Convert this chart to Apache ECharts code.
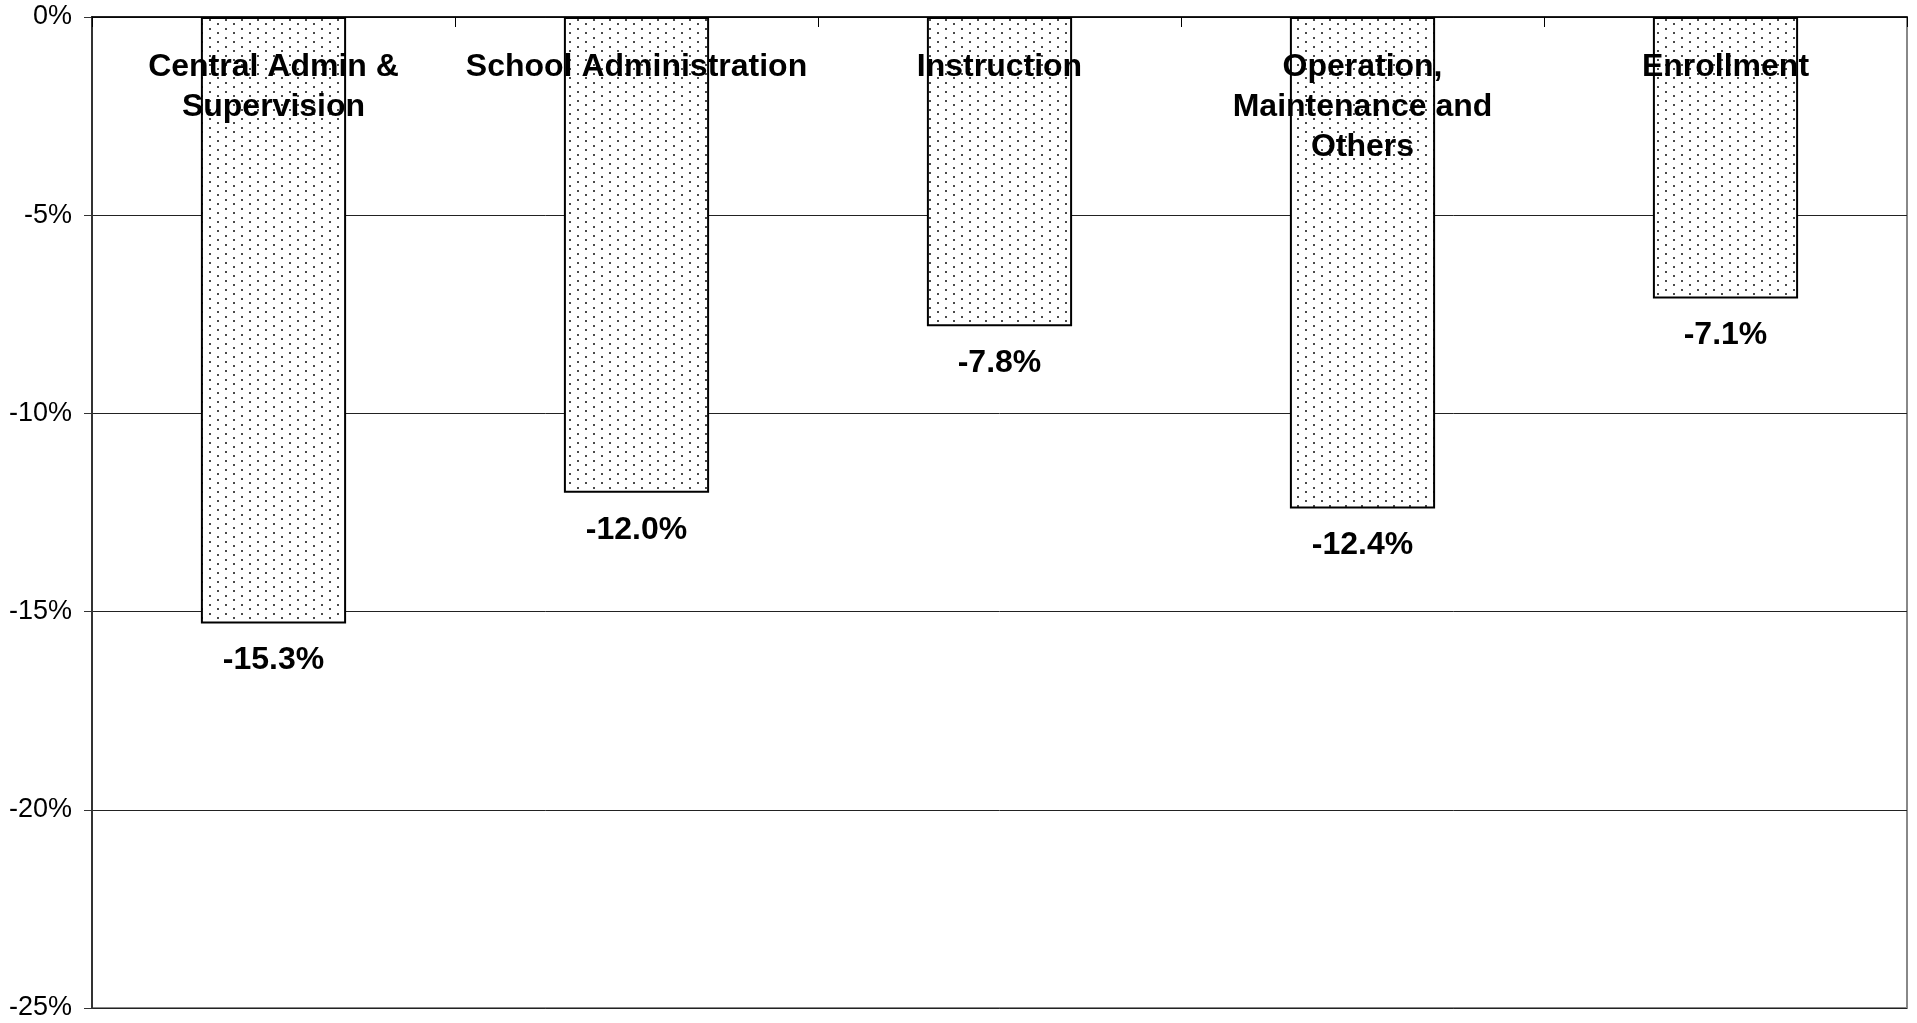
<!DOCTYPE html>
<html>
<head>
<meta charset="utf-8">
<script src="https://cdn.jsdelivr.net/npm/echarts@6/dist/echarts.min.js"></script>
<style>
html,body{margin:0;padding:0;background:#fff;}
#chart{width:1917px;height:1023px;}
</style>
</head>
<body>
<div id="chart"></div>
<script>
var categories = ['Central Admin &\nSupervision', 'School Administration', 'Instruction', 'Operation,\nMaintenance and\nOthers', 'Enrollment'];
var values = [-15.3, -12.0, -7.8, -12.4, -7.1];
var yTicks = { min: -25, max: 0, interval: 5 };

function makePattern() {
  var c = document.createElement('canvas');
  c.width = 16; c.height = 9;
  var ctx = c.getContext('2d');
  ctx.fillStyle = '#ffffff';
  ctx.fillRect(0, 0, 16, 9);
  ctx.fillStyle = '#4a4a4a';
  ctx.fillRect(1, 1, 2, 2);
  ctx.fillRect(9, 5, 2, 2);
  return c;
}

var chart = echarts.init(document.getElementById('chart'), null, { renderer: 'canvas' });
var font = 'Liberation Sans, Arial, sans-serif';
chart.setOption({
  animation: false,
  backgroundColor: '#ffffff',
  grid: {
    left: 92, right: 10, top: 17, bottom: 15,
    show: true, borderColor: '#888888', borderWidth: 2, backgroundColor: 'transparent'
  },
  xAxis: {
    type: 'category',
    position: 'top',
    data: categories,
    z: 10,
    axisLine: { show: true, onZero: false, lineStyle: { color: '#000', width: 1.5 } },
    axisTick: { show: true, inside: true, length: 10, interval: 0, alignWithLabel: false, lineStyle: { color: '#000', width: 1 } },
    axisLabel: {
      inside: true, interval: 0, margin: 30,
      fontFamily: font, fontWeight: 'bold', fontSize: 32, lineHeight: 40,
      color: '#000', verticalAlign: 'top'
    },
    splitLine: { show: false }
  },
  yAxis: {
    type: 'value',
    min: yTicks.min, max: yTicks.max, interval: yTicks.interval,
    axisLine: { show: true, lineStyle: { color: '#333', width: 2 } },
    axisTick: { show: true, length: 8, lineStyle: { color: '#333', width: 1 } },
    axisLabel: {
      margin: 20, fontFamily: font, fontSize: 27, color: '#000',
      formatter: function (v) { return v + '%'; }
    },
    splitLine: { show: true, lineStyle: { color: '#222', width: 1 } }
  },
  series: [{
    type: 'bar',
    data: values,
    barWidth: '40%',
    itemStyle: {
      color: { image: makePattern(), repeat: 'repeat' },
      borderColor: '#000', borderWidth: 2
    },
    label: {
      show: true, position: 'bottom', distance: 21,
      fontFamily: font, fontWeight: 'bold', fontSize: 32, color: '#000',
      formatter: function (p) { return p.value.toFixed(1) + '%'; }
    }
  }]
});
</script>
</body>
</html>
